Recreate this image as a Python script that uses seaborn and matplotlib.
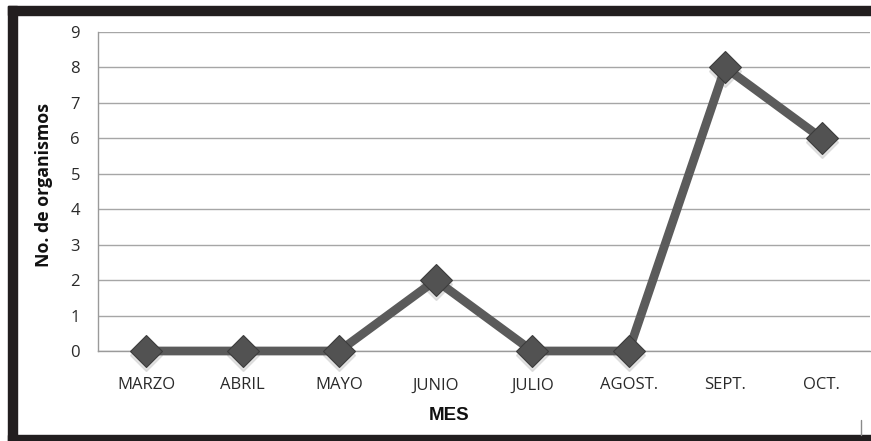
import matplotlib
matplotlib.use("Agg")
import matplotlib.pyplot as plt
import matplotlib.patches as mpatches
import matplotlib.lines as mlines
import seaborn as sns
import pandas as pd

meses = ["MARZO", "ABRIL", "MAYO", "JUNIO", "JULIO", "AGOST.", "SEPT.", "OCT."]
organismos = [0, 0, 0, 2, 0, 0, 8, 6]
y_ticks = list(range(0, 10))

df = pd.DataFrame({"mes": meses, "n": organismos})

sns.set_theme(style="white")
plt.rcParams["font.family"] = ["Open Sans", "DejaVu Sans"]

fig = plt.figure(figsize=(8.71, 4.41), dpi=100)
ax = fig.add_axes([98 / 871, 1 - 351 / 441, 772 / 871, 319 / 441])

# soft drop shadow under the markers
ax.plot(range(len(meses)), [v - 0.1 for v in organismos], linestyle="none",
        marker="D", markersize=16, color="#c8c8c8", alpha=0.5, zorder=3,
        clip_on=False)

sns.lineplot(data=df, x="mes", y="n", sort=False, ax=ax, color="#5b5b5b",
             linewidth=6.3, marker="D", markersize=16,
             markerfacecolor="#525252", markeredgecolor="#3c3c3c",
             markeredgewidth=0.8, zorder=4, clip_on=False)

ax.set_xlim(-0.5, len(meses) - 0.5)
ax.set_ylim(0, 9)
ax.set_yticks(y_ticks)
ax.yaxis.grid(True, color="#a6a6a6", linewidth=1)
ax.set_axisbelow(True)

for side in ["top", "right"]:
    ax.spines[side].set_visible(False)
ax.spines["left"].set_color("#9a9a9a")
ax.spines["bottom"].set_color("#9a9a9a")
ax.spines["left"].set_linewidth(1)
ax.spines["bottom"].set_linewidth(1)

ax.tick_params(axis="y", length=0, pad=13, labelsize=12, labelcolor="#2a2a2a")
ax.tick_params(axis="x", length=0, pad=19, labelsize=12, labelcolor="#2a2a2a")

ax.set_xlabel("MES", fontsize=13.5, fontweight="bold",
              family=["Liberation Sans", "DejaVu Sans"], color="#111111")
ax.xaxis.set_label_coords(0.455, -0.175)
ax.set_ylabel("No. de organismos", fontsize=12.8, fontweight="bold", color="#111111")
ax.yaxis.set_label_coords(-0.058, 0.52)

# dark frame around the figure
frame = "#221e1f"
fig.patches.append(mpatches.Rectangle((8 / 871, 1 - 15 / 441), 863 / 871, 9 / 441,
                                      transform=fig.transFigure, color=frame))
fig.patches.append(mpatches.Rectangle((8 / 871, 0), 9 / 871, 1 - 6 / 441,
                                      transform=fig.transFigure, color=frame))
fig.patches.append(mpatches.Rectangle((8 / 871, 0), 863 / 871, 6 / 441,
                                      transform=fig.transFigure, color=frame))
fig.lines.append(mlines.Line2D([861 / 871, 861 / 871], [6 / 441, 21 / 441],
                               transform=fig.transFigure, color="#8a8a8a",
                               linewidth=1))

fig.savefig("out.png", dpi=100)
